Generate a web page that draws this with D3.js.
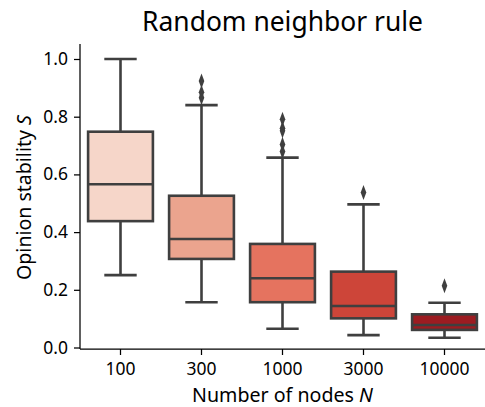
<!DOCTYPE html>
<html>
<head>
<meta charset="utf-8">
<script src="https://cdn.jsdelivr.net/npm/d3@7"></script>
<style>
  body { margin: 0; background: #fff; }
  svg { font-family: "Noto Sans", "Open Sans", sans-serif; }
</style>
</head>
<body>
<svg id="chart" width="485" height="407"></svg>
<script>
// Network sizes and per-size box statistics of opinion stability S
const categories = ["100", "300", "1000", "3000", "10000"];
const q1 =        [0.438, 0.307, 0.157, 0.101, 0.061];
const medians =   [0.566, 0.376, 0.240, 0.144, 0.078];
const q3 =        [0.748, 0.526, 0.359, 0.263, 0.115];
const whiskLow =  [0.251, 0.157, 0.065, 0.043, 0.034];
const whiskHigh = [1.000, 0.840, 0.658, 0.496, 0.155];
const outliers = [
  [],
  [0.924, 0.885, 0.866],
  [0.791, 0.760, 0.751, 0.704, 0.679],
  [0.537],
  [0.214]
];
const fills = ["#f6d6c9", "#eba48e", "#e5735f", "#cd4539", "#9c1c21"];
const yTicks = [0.0, 0.2, 0.4, 0.6, 0.8, 1.0];

const svg = d3.select("#chart");
const W = 485;
const left = 80;
const ink = "#3f3f3f";

const x = d3.scaleBand().domain(categories).range([left, W]).paddingInner(0).paddingOuter(0);
const y = d3.scaleLinear().domain([0, 1.0]).range([347.5, 59]);
const axisY = 349, spineTop = 44;

// size a text element so that its rendered length equals the given width
function fitWidth(sel, width) {
  const node = sel.node();
  const fs = parseFloat(sel.style("font-size"));
  const len = node.getComputedTextLength();
  sel.style("font-size", (fs * width / len).toFixed(2) + "px");
}

// axes
const gy = svg.append("g").attr("transform", `translate(${left},0)`)
  .call(d3.axisLeft(y).tickValues(yTicks).tickFormat(d3.format(".1f")).tickSize(6).tickPadding(6));
gy.select(".domain").remove();
gy.append("line").attr("x1", 0).attr("x2", 0).attr("y1", spineTop).attr("y2", axisY)
  .attr("stroke", "#000").attr("stroke-width", 1.25);

const gx = svg.append("g").attr("transform", `translate(0,${axisY})`)
  .call(d3.axisBottom(x).tickSize(6).tickPadding(8));
gx.select(".domain").remove();
gx.append("line").attr("x1", left).attr("x2", W).attr("y1", 0).attr("y2", 0)
  .attr("stroke", "#000").attr("stroke-width", 1.25);

[gx, gy].forEach(g => {
  g.attr("font-family", null).attr("font-size", null);
  g.selectAll(".tick line").attr("stroke", "#000").attr("stroke-width", 1.25);
  g.selectAll(".tick text").attr("fill", "#000").style("font-size", "16px");
});
// tick label size from the widest label
const probe = gx.selectAll(".tick text").filter(d => d === "10000");
fitWidth(probe, 50);
const tickFs = probe.style("font-size");
gx.selectAll(".tick text").style("font-size", tickFs);
gy.selectAll(".tick text").style("font-size", tickFs);

// boxes
const bw = x.bandwidth() * 0.8;
const capW = bw * 0.5;
categories.forEach((c, i) => {
  const cx = x(c) + x.bandwidth() / 2;
  const g = svg.append("g");
  g.append("line").attr("x1", cx).attr("x2", cx).attr("y1", y(q3[i])).attr("y2", y(whiskHigh[i]))
    .attr("stroke", ink).attr("stroke-width", 2.6);
  g.append("line").attr("x1", cx).attr("x2", cx).attr("y1", y(q1[i])).attr("y2", y(whiskLow[i]))
    .attr("stroke", ink).attr("stroke-width", 2.6);
  [whiskHigh[i], whiskLow[i]].forEach(v => {
    g.append("line").attr("x1", cx - capW / 2).attr("x2", cx + capW / 2).attr("y1", y(v)).attr("y2", y(v))
      .attr("stroke", ink).attr("stroke-width", 2.6);
  });
  g.append("rect").attr("x", cx - bw / 2).attr("width", bw)
    .attr("y", y(q3[i])).attr("height", y(q1[i]) - y(q3[i]))
    .attr("fill", fills[i]).attr("stroke", ink).attr("stroke-width", 2.6);
  g.append("line").attr("x1", cx - bw / 2).attr("x2", cx + bw / 2).attr("y1", y(medians[i])).attr("y2", y(medians[i]))
    .attr("stroke", ink).attr("stroke-width", 2.6);
  // fliers (diamonds)
  outliers[i].forEach(v => {
    g.append("path")
      .attr("d", d3.symbol().type(d3.symbolDiamond).size(42))
      .attr("transform", `translate(${cx},${y(v)}) scale(0.8,1.25)`)
      .attr("fill", ink);
  });
});

// labels
const title = svg.append("text").attr("x", 282.5).attr("y", 31).attr("text-anchor", "middle")
  .style("font-size", "23px").attr("fill", "#000").text("Random neighbor rule");
fitWidth(title, 281);

const xl = svg.append("text").attr("x", 282.5).attr("y", 402).attr("text-anchor", "middle")
  .style("font-size", "17px").attr("fill", "#000");
xl.append("tspan").text("Number of nodes ");
xl.append("tspan").attr("font-style", "italic").text("N");
fitWidth(xl, 181);

const yl = svg.append("text").attr("transform", `translate(31,197.5) rotate(-90)`)
  .attr("text-anchor", "middle").style("font-size", "17px").attr("fill", "#000");
yl.append("tspan").text("Opinion stability ");
yl.append("tspan").attr("font-style", "italic").text("S");
fitWidth(yl, 165);
</script>
</body>
</html>
